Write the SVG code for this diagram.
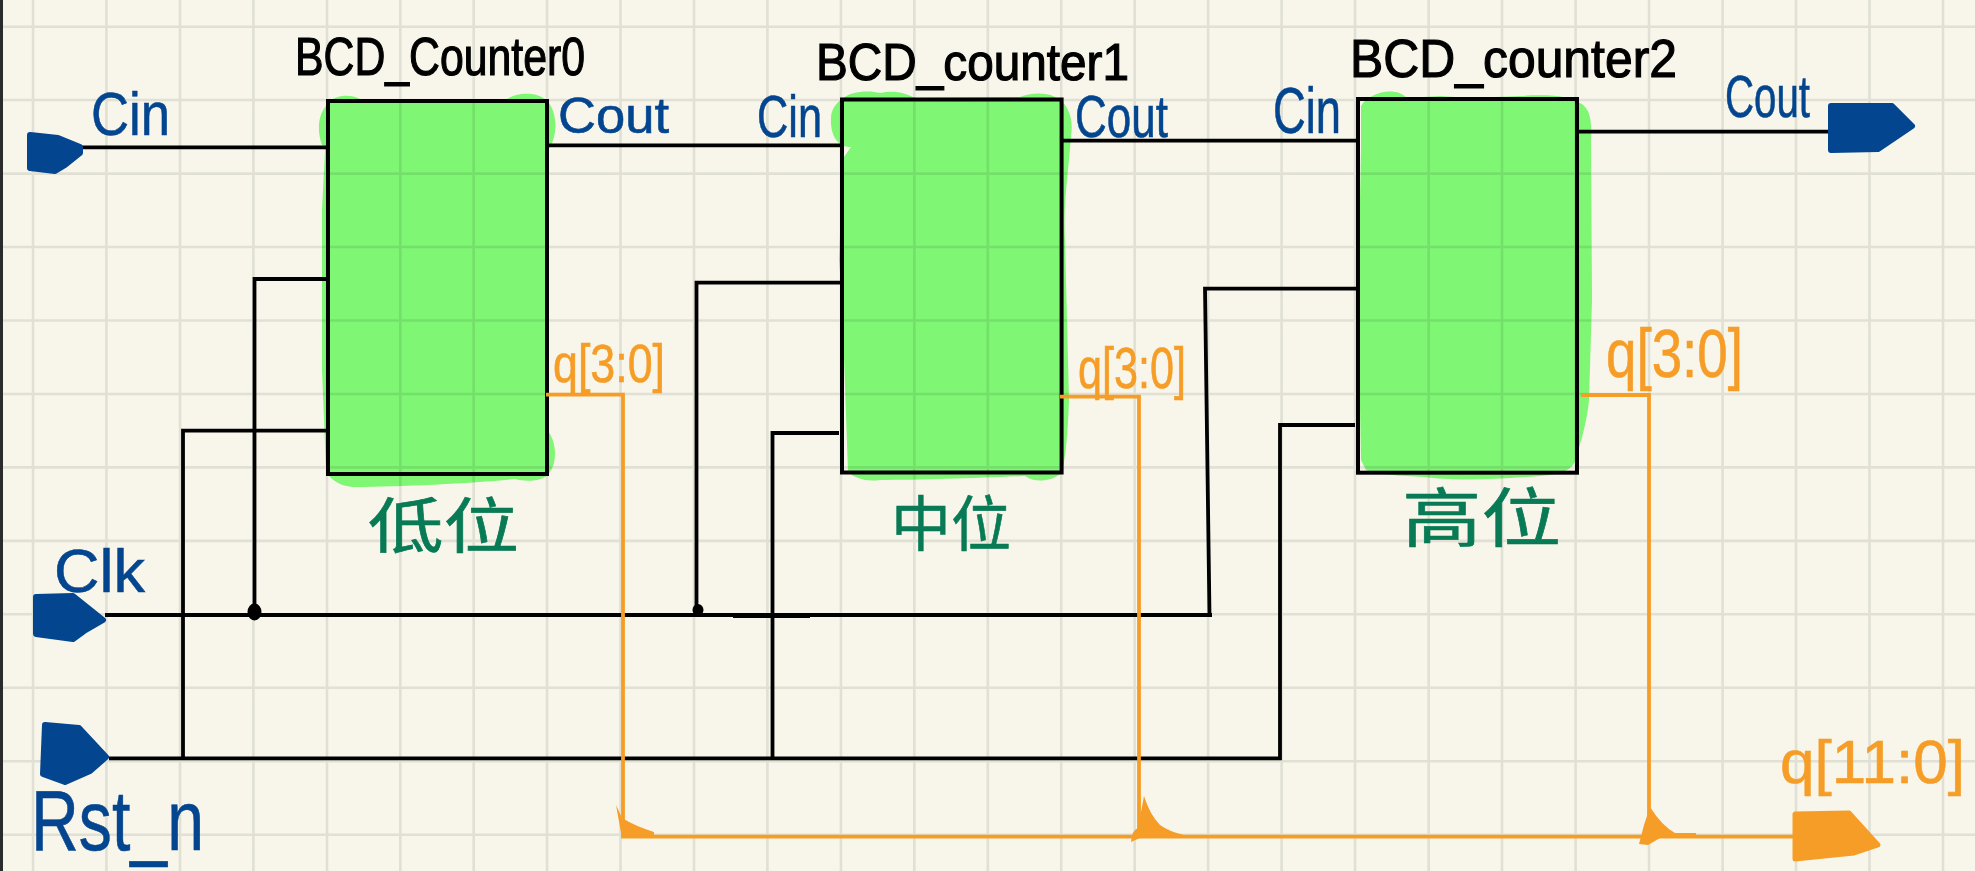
<svg xmlns="http://www.w3.org/2000/svg" width="1975" height="871" viewBox="0 0 1975 871">
<style>
.grid line{stroke:#E0E0D4;stroke-width:2.6}
.blob{fill:#83FF7E;mix-blend-mode:multiply}
.box{fill:none;stroke:#000;stroke-width:4}
.wire{fill:none;stroke:#000;stroke-width:3.8}
.bus{fill:none;stroke:#F59D27;stroke-width:3.8}
.pin{fill:#04458F;stroke:#04458F;stroke-width:6;stroke-linejoin:round}
.opin{fill:#F59D27;stroke:#F59D27;stroke-width:5;stroke-linejoin:round}
text{font-family:"Liberation Sans","Noto Sans CJK SC",sans-serif}
.t{fill:#000;stroke:#000;stroke-width:1.2}
.b{fill:#04458F;stroke:#04458F;stroke-width:.6}
.o{fill:#F59D27;stroke:#F59D27;stroke-width:.6}
.g{font-family:"Noto Sans CJK SC","Liberation Sans",sans-serif;fill:#087A55;stroke:#087A55;stroke-width:.6}
</style>
<rect width="1975" height="871" fill="#F8F6EA"/>
<rect width="3" height="871" fill="#2B2B2B"/>
<g class="grid">
<line x1="33" y1="0" x2="33" y2="871"/><line x1="106.400" y1="0" x2="106.400" y2="871"/><line x1="180" y1="0" x2="180" y2="871"/><line x1="253.400" y1="0" x2="253.400" y2="871"/><line x1="327" y1="0" x2="327" y2="871"/><line x1="400.300" y1="0" x2="400.300" y2="871"/><line x1="473.700" y1="0" x2="473.700" y2="871"/><line x1="547" y1="0" x2="547" y2="871"/><line x1="620.500" y1="0" x2="620.500" y2="871"/><line x1="694" y1="0" x2="694" y2="871"/><line x1="767.400" y1="0" x2="767.400" y2="871"/><line x1="840.900" y1="0" x2="840.900" y2="871"/><line x1="914.300" y1="0" x2="914.300" y2="871"/><line x1="987.800" y1="0" x2="987.800" y2="871"/><line x1="1061.200" y1="0" x2="1061.200" y2="871"/><line x1="1134.700" y1="0" x2="1134.700" y2="871"/><line x1="1208.100" y1="0" x2="1208.100" y2="871"/><line x1="1281.600" y1="0" x2="1281.600" y2="871"/><line x1="1355" y1="0" x2="1355" y2="871"/><line x1="1428.700" y1="0" x2="1428.700" y2="871"/><line x1="1502" y1="0" x2="1502" y2="871"/><line x1="1575.600" y1="0" x2="1575.600" y2="871"/><line x1="1649" y1="0" x2="1649" y2="871"/><line x1="1722.600" y1="0" x2="1722.600" y2="871"/><line x1="1796" y1="0" x2="1796" y2="871"/><line x1="1869.500" y1="0" x2="1869.500" y2="871"/><line x1="1943" y1="0" x2="1943" y2="871"/>
<line x1="3" y1="26.700" x2="1975" y2="26.700"/><line x1="3" y1="100" x2="1975" y2="100"/><line x1="3" y1="173.600" x2="1975" y2="173.600"/><line x1="3" y1="247" x2="1975" y2="247"/><line x1="3" y1="320.500" x2="1975" y2="320.500"/><line x1="3" y1="394" x2="1975" y2="394"/><line x1="3" y1="467.400" x2="1975" y2="467.400"/><line x1="3" y1="540.900" x2="1975" y2="540.900"/><line x1="3" y1="614.300" x2="1975" y2="614.300"/><line x1="3" y1="687.800" x2="1975" y2="687.800"/><line x1="3" y1="761.200" x2="1975" y2="761.200"/><line x1="3" y1="834.700" x2="1975" y2="834.700"/>
</g>

<g id="counter0">
<path class="blob" d="M330 102C334 95 352 93 362 100L505 101C512 93 535 90 546 100C556 108 558 130 552 143L548 150L545 230L547 430C556 440 558 460 550 472C545 482 525 482 515 479C480 483 400 487 355 487C340 487 328 478 326 470L322 370L322 210L325 150C318 140 314 115 330 102Z"/>
<rect class="box" x="328" y="101" width="219" height="373"/>
<text class="t" x="295" y="75" font-size="54" textLength="290" lengthAdjust="spacingAndGlyphs">BCD_Counter0</text>
<text class="g" x="368" y="548" font-size="60" textLength="151" lengthAdjust="spacingAndGlyphs">低位</text>
</g>
<g id="counter1">
<path class="blob" d="M842 99C850 91 870 90 880 93C895 90 905 93 915 98L1020 97C1030 93 1045 92 1055 97C1068 102 1074 120 1071 135C1069 170 1063 200 1065 240L1069 400C1068 430 1066 455 1062 473C1050 482 1035 483 1025 476C980 478 920 480 880 480C865 482 855 478 848 472L842 300L839 260L841 205L844 157L851 147C838 148 830 135 831 118C831 110 836 103 842 99Z"/>
<rect class="box" x="842" y="99.500" width="219.600" height="373"/>
<text class="t" x="816" y="80" font-size="52" textLength="313" lengthAdjust="spacingAndGlyphs">BCD_counter1</text>
<text class="g" x="891" y="546" font-size="60" textLength="120" lengthAdjust="spacingAndGlyphs">中位</text>
</g>
<g id="counter2">
<path class="blob" d="M1361 106C1368 93 1395 85 1407 98L1440 96L1470 98L1520 96C1550 94 1570 96 1580 103C1590 108 1592 120 1591 140L1592 300L1589 400C1587 420 1583 435 1575 462C1570 470 1565 472 1550 475C1500 480 1450 481 1425 477C1400 476 1375 474 1366 470L1361 460L1358 300L1361 150Z"/>
<rect class="box" x="1358" y="99" width="219" height="373.700"/>
<text class="t" x="1350" y="77" font-size="54" textLength="327" lengthAdjust="spacingAndGlyphs">BCD_counter2</text>
<text class="g" x="1402" y="541" font-size="64" textLength="159" lengthAdjust="spacingAndGlyphs">高位</text>
</g>

<g id="connectors">
<path class="wire" d="M82 147.300H328"/>
<path class="wire" d="M547 145.300H840"/>
<path class="wire" d="M1062 140.700H1358"/>
<path class="wire" d="M1575 131.700H1828"/>
<path class="wire" d="M105 615H1212"/>
<path class="wire" d="M733 616H810"/>
<path class="wire" d="M254.500 615V279H328"/>
<path class="wire" d="M696.500 612V282.700H842"/>
<path class="wire" d="M1209.500 615L1205 288.700H1358"/>
<path class="wire" d="M109 758.300H1280V425H1355"/>
<path class="wire" d="M183 758V430.700H328"/>
<path class="wire" d="M772.500 758V433H839"/>
<ellipse cx="254.500" cy="612" rx="7" ry="8.500"/>
<ellipse cx="698" cy="610" rx="5.500" ry="6"/>
<path class="bus" d="M546 394.700H623V836.700H1795"/>
<path class="bus" d="M1060 396.700H1139V836.700"/>
<path class="bus" d="M1581 395H1649V836.700"/>
<path fill="#F59D27" d="M616 805L622 818Q635 826 654 832L654 838H622Z"/>
<path fill="#F59D27" d="M1144 796Q1150 815 1160 825Q1170 832 1184 835V838H1140L1131 842Q1132 830 1138 828Z"/>
<path fill="#F59D27" d="M1650 807Q1662 826 1675 833H1696V838H1660L1648 845L1639 844L1644 825Z"/>
</g>

<g id="pin-cin">
<path class="pin" d="M30 135L58 138L80 147V153L65 165L55 171L30 168Z"/>
<text class="b" x="91" y="135" font-size="62" textLength="79" lengthAdjust="spacingAndGlyphs">Cin</text>
</g>
<g id="pin-clk">
<path class="pin" d="M36 597L73 596L103 620L84 631L73 639L36 634Z"/>
<text class="b" x="54" y="592" font-size="62" textLength="91" lengthAdjust="spacingAndGlyphs">Clk</text>
</g>
<g id="pin-rst">
<path class="pin" d="M45 725L79 728L106 757L90 771L65 782L43 774Z"/>
<text class="b" x="31" y="850" font-size="86" textLength="173" lengthAdjust="spacingAndGlyphs">Rst_n</text>
</g>
<g id="pin-cout">
<path class="pin" d="M1831 106L1892 106L1912 126L1878 149L1831 150Z"/>
<text class="b" x="1725" y="117" font-size="60" textLength="85" lengthAdjust="spacingAndGlyphs">Cout</text>
</g>
<g id="pin-q">
<path class="opin" d="M1795 814L1849 813L1878 845L1854 853L1795 859Z"/>
<text class="o" x="1780" y="783" font-size="62" textLength="185" lengthAdjust="spacingAndGlyphs">q[11:0]</text>
</g>

<g id="labels">
<text class="b" x="558" y="133" font-size="50" textLength="111" lengthAdjust="spacingAndGlyphs">Cout</text>
<text class="b" x="757" y="137" font-size="60" textLength="65" lengthAdjust="spacingAndGlyphs">Cin</text>
<text class="b" x="1075" y="137" font-size="60" textLength="93" lengthAdjust="spacingAndGlyphs">Cout</text>
<text class="b" x="1273" y="133" font-size="64" textLength="68" lengthAdjust="spacingAndGlyphs">Cin</text>
<text class="o" x="553" y="382" font-size="54" textLength="112" lengthAdjust="spacingAndGlyphs">q[3:0]</text>
<text class="o" x="1078" y="388" font-size="58" textLength="108" lengthAdjust="spacingAndGlyphs">q[3:0]</text>
<text class="o" x="1606" y="377" font-size="68" textLength="137" lengthAdjust="spacingAndGlyphs">q[3:0]</text>
</g>
</svg>
